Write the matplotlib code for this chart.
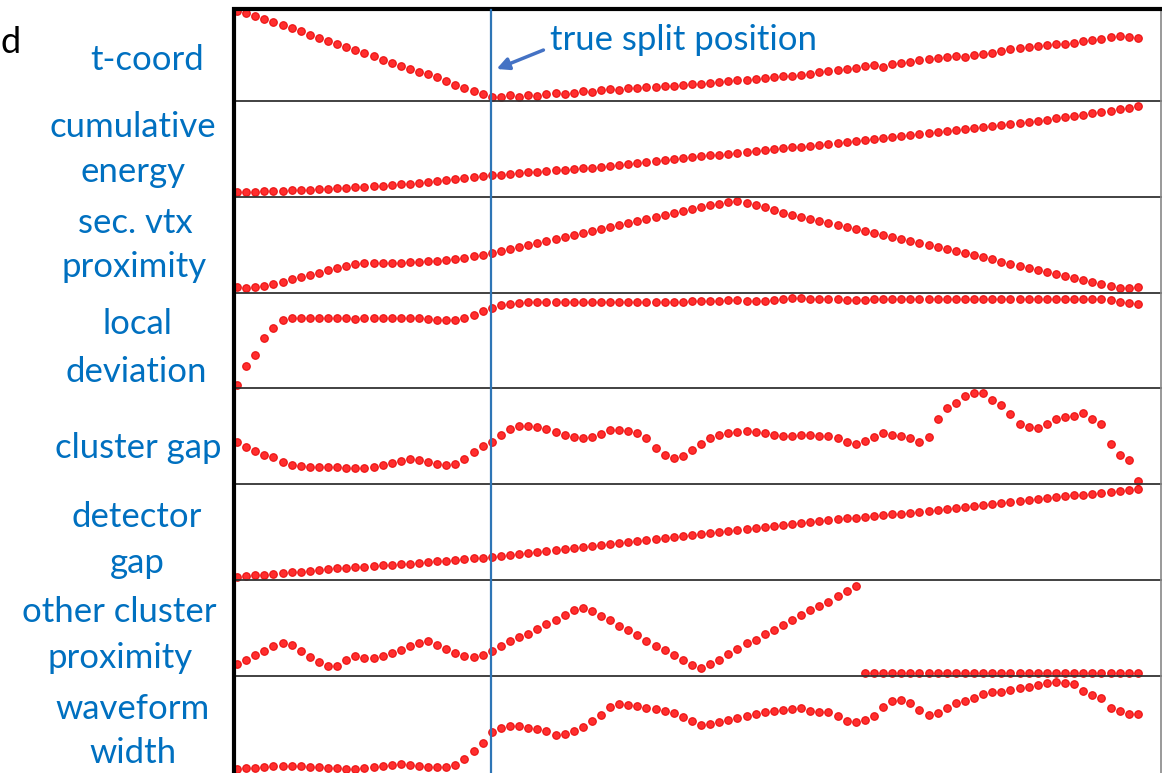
import matplotlib
matplotlib.use("Agg")
import matplotlib.pyplot as plt
import numpy as np

W, H = 1163, 773

# sample index (shared x for all panels)
sample = np.arange(100)

t_coord = [90, 88, 85, 82, 79, 76, 73, 70, 66, 63, 60, 57, 54, 51, 48, 45, 41, 38, 35, 32,
           29, 27, 24, 20, 16, 13, 10, 7, 4, 4, 6, 4, 6, 5, 7, 8, 7, 8, 10, 9,
           11, 12, 11, 13, 13, 14, 14, 15, 15, 16, 17, 17, 18, 19, 20, 21, 21, 22, 23, 24,
           25, 25, 26, 27, 29, 30, 31, 32, 33, 35, 36, 34, 37, 38, 39, 41, 42, 43, 44, 45,
           44, 46, 47, 48, 50, 52, 53, 54, 55, 56, 57, 57, 58, 60, 61, 62, 64, 65, 64, 63]

cumulative_energy = [5, 5, 5, 6, 6, 6, 7, 7, 7, 8, 8, 9, 9, 10, 10, 11, 11, 12, 13, 13,
                     14, 15, 16, 17, 18, 19, 20, 21, 22, 22, 23, 24, 25, 25, 26, 27, 27, 28, 29, 29,
                     30, 31, 32, 33, 34, 35, 36, 37, 38, 39, 40, 41, 42, 42, 43, 44, 45, 46, 47, 48,
                     49, 50, 50, 51, 52, 53, 54, 55, 56, 57, 58, 59, 60, 61, 62, 63, 64, 65, 66, 67,
                     68, 69, 70, 71, 72, 73, 74, 75, 76, 77, 79, 80, 81, 82, 84, 85, 86, 88, 89, 91]

sec_vtx_proximity = [6, 5, 6, 7, 9, 11, 14, 16, 18, 20, 23, 25, 27, 29, 30, 30, 30, 30, 30, 31,
                     31, 32, 32, 33, 34, 35, 37, 38, 40, 42, 44, 46, 48, 50, 52, 54, 56, 58, 60, 62,
                     64, 66, 68, 70, 72, 74, 76, 78, 80, 82, 84, 86, 88, 89, 91, 92, 90, 88, 86, 83,
                     80, 78, 76, 74, 72, 70, 68, 66, 64, 62, 60, 58, 56, 54, 52, 50, 48, 46, 44, 42,
                     40, 38, 36, 34, 31, 29, 27, 25, 23, 21, 19, 17, 15, 13, 11, 9, 7, 5, 5, 6]

local_deviation = [3, 22, 33, 50, 60, 68, 70, 70, 70, 70, 70, 70, 70, 69, 70, 70, 70, 70, 70, 70,
                   70, 69, 68, 68, 68, 70, 73, 77, 80, 83, 84, 85, 86, 86, 86, 86, 86, 86, 86, 86,
                   86, 86, 86, 86, 86, 86, 86, 86, 86, 86, 87, 87, 87, 87, 88, 88, 87, 87, 87, 88,
                   89, 90, 90, 89, 89, 89, 89, 88, 88, 88, 89, 89, 89, 89, 89, 89, 89, 89, 89, 89,
                   89, 89, 89, 89, 89, 89, 89, 89, 89, 89, 89, 89, 89, 89, 89, 89, 88, 86, 85, 84]

cluster_gap = [42, 37, 33, 29, 27, 22, 19, 18, 17, 17, 17, 17, 16, 16, 16, 17, 19, 21, 23, 25,
               24, 22, 20, 19, 20, 25, 32, 38, 42, 49, 55, 58, 58, 57, 55, 52, 49, 47, 46, 47,
               50, 54, 54, 53, 51, 46, 36, 29, 26, 28, 34, 40, 46, 49, 51, 52, 53, 52, 51, 49,
               48, 48, 49, 49, 48, 48, 46, 42, 40, 43, 47, 51, 49, 48, 46, 42, 47, 65, 76, 81,
               88, 91, 91, 84, 79, 70, 60, 57, 56, 60, 65, 67, 68, 71, 65, 60, 40, 29, 24, 3]

detector_gap = [3, 4, 5, 5, 6, 7, 8, 8, 9, 10, 11, 12, 12, 13, 13, 14, 15, 15, 16, 16,
                17, 18, 19, 19, 20, 21, 22, 22, 23, 24, 25, 26, 27, 28, 29, 30, 31, 32, 33, 34,
                35, 36, 37, 38, 39, 40, 41, 42, 43, 44, 45, 46, 47, 48, 49, 50, 51, 52, 53, 54,
                55, 56, 57, 58, 59, 60, 61, 62, 62, 63, 64, 65, 66, 66, 67, 68, 69, 70, 71, 72,
                73, 74, 75, 76, 77, 78, 79, 80, 81, 82, 83, 84, 85, 85, 86, 87, 88, 89, 90, 91]

other_cluster_proximity = [12, 16, 21, 25, 30, 33, 31, 25, 19, 14, 10, 10, 16, 20, 18, 18, 20, 23, 26, 30,
                           33, 35, 31, 27, 23, 20, 19, 21, 25, 30, 35, 39, 42, 47, 52, 56, 61, 66, 68, 65,
                           60, 56, 50, 46, 41, 35, 30, 26, 21, 16, 11, 8, 12, 16, 22, 27, 33, 36, 42, 46,
                           51, 56, 61, 66, 70, 74, 80, 85, 90, 3, 3, 3, 3, 3, 3, 3, 3, 3, 3, 3,
                           3, 3, 3, 3, 3, 3, 3, 3, 3, 3, 3, 3, 3, 3, 3, 3, 3, 3, 3, 3]

waveform_width = [3, 4, 4, 5, 6, 6, 6, 6, 5, 5, 4, 4, 3, 3, 4, 5, 6, 7, 8, 7,
                  6, 5, 5, 5, 7, 13, 21, 29, 40, 44, 46, 46, 44, 43, 41, 37, 38, 41, 45, 51,
                  57, 65, 68, 67, 66, 64, 63, 61, 59, 55, 51, 47, 48, 50, 52, 54, 56, 58, 60, 61,
                  62, 63, 64, 61, 60, 60, 56, 51, 50, 52, 56, 65, 71, 72, 69, 62, 57, 59, 64, 69,
                  71, 74, 78, 80, 80, 82, 84, 85, 87, 89, 90, 89, 88, 81, 77, 74, 64, 61, 58, 58]

series = [t_coord, cumulative_energy, sec_vtx_proximity, local_deviation,
          cluster_gap, detector_gap, other_cluster_proximity, waveform_width]

labels = [["t-coord"], ["cumulative", "energy"], ["sec. vtx", "proximity"],
          ["local", "deviation"], ["cluster gap"], ["detector", "gap"],
          ["other cluster", "proximity"], ["waveform", "width"]]

split_index = 27.9

# ---- layout (pixels) ----
panel_tops = [9, 101, 197, 293, 388, 484, 580, 676]
panel_bottoms = [101, 197, 293, 388, 484, 580, 676, 772]
ax_left, ax_right = 236, 1161
x0_px, dx_px = 237, 9.1

# (center x, baseline y) of each label line
label_pos = [[(147, 70)], [(133, 137), (133, 182)], [(135, 233), (134, 277)],
             [(137, 334), (136, 382)], [(138, 458)], [(137, 527), (137, 573)],
             [(119, 622), (120, 668)], [(133, 719), (133, 763)]]

BLUE_TXT = "#0070C0"
font = "Lato"
FS = 25

fig = plt.figure(figsize=(W / 100, H / 100), dpi=100)

def fx(x):
    return x / W

def fy(y):
    return 1 - y / H

xlim = ((ax_left - x0_px) / dx_px, (ax_right - x0_px) / dx_px)

for k, vals in enumerate(series):
    top, bot = panel_tops[k], panel_bottoms[k]
    ax = fig.add_axes([fx(ax_left), fy(bot), fx(ax_right - ax_left), (bot - top) / H])
    ax.set_xlim(*xlim)
    ax.set_ylim(0, bot - top)
    ax.plot(sample, vals, 'o', ms=5.5, mfc=(1, 0, 0, 0.82), mec=(0.9, 0, 0, 0.85),
            mew=0.8, ls='none', clip_on=False, zorder=3)
    ax.set_xticks([])
    ax.set_yticks([])
    for s in ax.spines.values():
        s.set_visible(False)
    ax.patch.set_alpha(0)
    for txt, (lx, ly) in zip(labels[k], label_pos[k]):
        fig.text(fx(lx), fy(ly), txt, ha='center', va='baseline', color=BLUE_TXT,
                 fontsize=FS, family=font)

# separators
for y in panel_bottoms[:-1]:
    fig.add_artist(plt.Line2D([fx(ax_left), fx(ax_right)], [fy(y), fy(y)],
                              color="#333333", lw=1.3, transform=fig.transFigure))

# right border
fig.add_artist(plt.Line2D([fx(1161), fx(1161)], [fy(8), fy(773)], color="#888888", lw=1.2,
                          transform=fig.transFigure))
# top and left thick borders
fig.add_artist(plt.Line2D([fx(232), fx(1162)], [fy(8.5), fy(8.5)], color="black", lw=3.0,
                          transform=fig.transFigure, solid_capstyle='butt'))
fig.add_artist(plt.Line2D([fx(234), fx(234)], [fy(7), fy(773)], color="black", lw=3.0,
                          transform=fig.transFigure, solid_capstyle='butt'))

# split line
split_px = x0_px + split_index * dx_px
fig.add_artist(plt.Line2D([fx(split_px), fx(split_px)], [fy(10), fy(773)], color="#2E75B6",
                          lw=1.6, transform=fig.transFigure, zorder=5))

# annotation
fig.text(fx(550), fy(50), "true split position", ha='left', va='baseline', color=BLUE_TXT,
         fontsize=FS, family=font)
fig.add_artist(matplotlib.patches.FancyArrowPatch(
    (fx(546), fy(49)), (fx(494), fy(70)), transform=fig.transFigure,
    arrowstyle='-|>', mutation_scale=18, color="#4472C4", lw=2.5))

# partially visible text at top-left
fig.text(fx(0), fy(53), "d", ha='left', va='baseline', color="black", fontsize=26, family=font)

fig.savefig("out.png", dpi=100)
